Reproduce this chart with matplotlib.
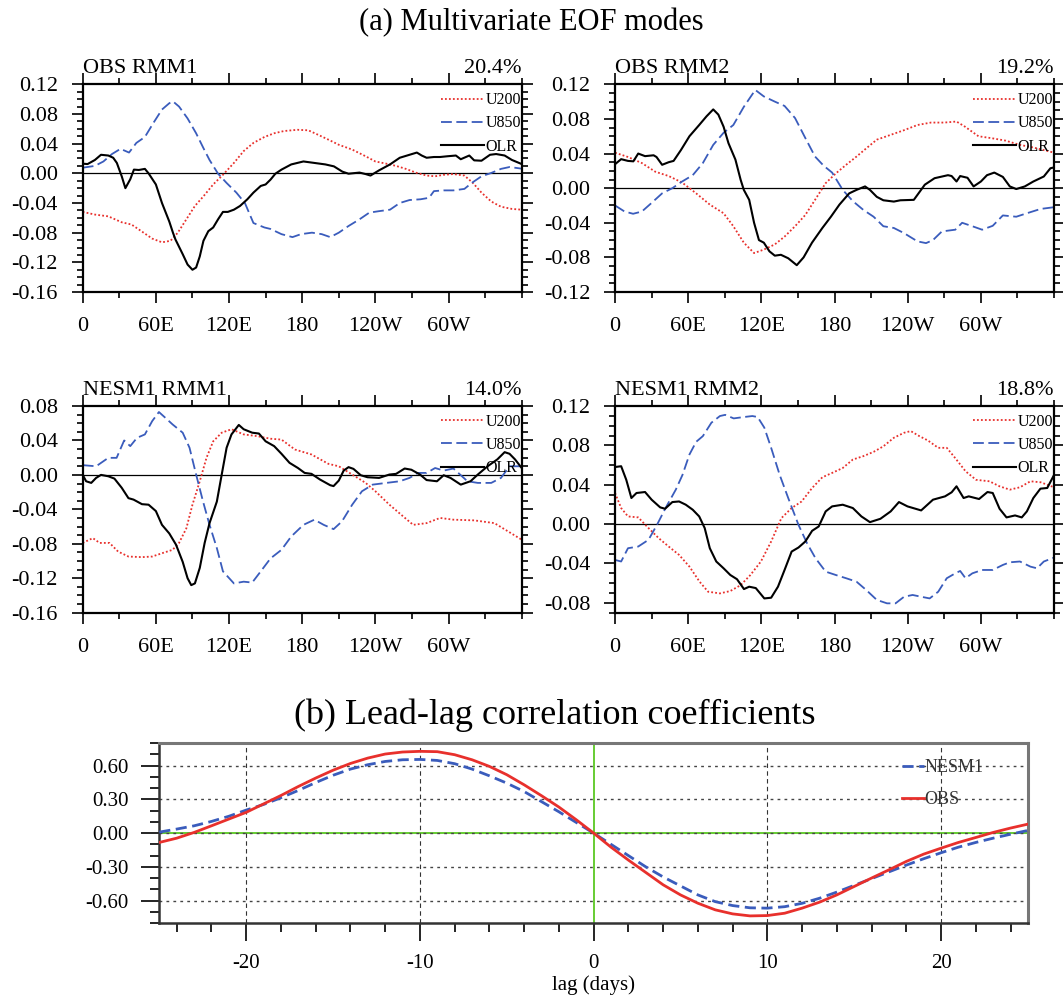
import numpy as np
import matplotlib
matplotlib.use("Agg")
import matplotlib.pyplot as plt
from matplotlib.ticker import MultipleLocator

plt.rcParams['font.family'] = ['Liberation Serif', 'DejaVu Serif']

# ---------------- data ----------------
# (a) EOF structures, longitude in degrees east (0..360)
obs1_olr_lon = [0, 4, 10, 15, 21, 25, 28, 32, 35, 39, 42, 46, 51, 54, 60, 65, 71, 74, 76, 82, 86, 90, 93, 96, 99,
                103, 107, 111, 115, 119, 124, 129, 135, 140, 146, 150, 154, 158, 163, 171, 181, 190, 199, 206, 213,
                218, 227, 232, 236, 243, 252, 260, 268, 274, 278, 282, 288, 293, 299, 306, 310, 317, 321, 327, 334,
                339, 346, 352, 360]
obs1_olr = [0.013, 0.0125, 0.018, 0.025, 0.024, 0.021, 0.014, -0.004, -0.020, -0.008, 0.005, 0.0045, 0.006, 0.0,
            -0.015, -0.040, -0.065, -0.080, -0.089, -0.109, -0.123, -0.130, -0.127, -0.112, -0.091, -0.078, -0.073,
            -0.062, -0.052, -0.052, -0.049, -0.044, -0.035, -0.026, -0.017, -0.015, -0.0085, -0.0005, 0.005, 0.012,
            0.016, 0.014, 0.012, 0.0094, 0.0022, -0.0005, 0.001, -0.001, -0.003, 0.004, 0.012, 0.021, 0.025, 0.028,
            0.024, 0.021, 0.022, 0.022, 0.023, 0.024, 0.019, 0.024, 0.0175, 0.017, 0.025, 0.026, 0.024, 0.018, 0.0125]
obs1_u200_lon = [0, 10, 21, 32, 40, 49, 57, 65, 72, 78, 85, 92, 99, 107, 115, 124, 132, 140, 149, 157, 165, 176, 185,
                 193, 202, 210, 221, 232, 240, 249, 257, 265, 274, 282, 289, 296, 304, 313, 320, 327, 335, 343, 352, 360]
obs1_u200 = [-0.052, -0.0556, -0.058, -0.066, -0.069, -0.079, -0.088, -0.093, -0.091, -0.080, -0.062, -0.044, -0.031,
             -0.015, -0.002, 0.014, 0.030, 0.041, 0.049, 0.054, 0.057, 0.0587, 0.058, 0.052, 0.045, 0.0385, 0.032,
             0.023, 0.016, 0.013, 0.010, 0.006, 0.0005, -0.003, -0.004, -0.002, -0.001, -0.003, -0.013, -0.026,
             -0.038, -0.045, -0.048, -0.049]
obs1_u850_lon = [0, 10, 17, 24, 31, 38, 44, 51, 58, 65, 71, 74, 79, 86, 93, 99, 104, 111, 118, 126, 133, 140, 149,
                 154, 163, 172, 179, 188, 196, 203, 210, 218, 227, 235, 243, 252, 260, 268, 277, 284, 288, 296, 304,
                 313, 319, 327, 335, 343, 350, 360]
obs1_u850 = [0.0076, 0.010, 0.016, 0.026, 0.033, 0.028, 0.041, 0.049, 0.068, 0.086, 0.0945, 0.097, 0.090, 0.074,
             0.054, 0.034, 0.018, -0.0005, -0.013, -0.026, -0.040, -0.067, -0.073, -0.075, -0.082, -0.086, -0.082,
             -0.080, -0.082, -0.086, -0.080, -0.071, -0.062, -0.053, -0.051, -0.049, -0.040, -0.036, -0.035, -0.033,
             -0.024, -0.023, -0.023, -0.021, -0.013, -0.004, 0.0005, 0.006, 0.0085, 0.0063]

obs2_olr_lon = [0, 5, 10.6, 15, 19, 24.6, 31.6, 34, 38.6, 44, 48, 54, 61, 69, 75, 80.5, 84.7, 89, 93, 98.7, 103,
                105.6, 110, 114, 118, 122, 126.6, 131, 136, 142, 149, 154.6, 161.5, 170, 177, 184, 192, 198, 205,
                209, 214.6, 220, 228.6, 234, 245, 254, 262, 273, 276, 280, 283, 289, 294, 300, 305, 311, 318, 323.7,
                329, 336, 343, 351.6, 357, 360]
obs2_olr = [0.0277, 0.0335, 0.0315, 0.031, 0.040, 0.037, 0.038, 0.036, 0.027, 0.030, 0.0315, 0.044, 0.060, 0.073,
            0.083, 0.091, 0.085, 0.071, 0.052, 0.033, 0.0096, -0.002, -0.0135, -0.040, -0.060, -0.063, -0.073, -0.078,
            -0.077, -0.081, -0.089, -0.080, -0.063, -0.046, -0.033, -0.019, -0.006, -0.002, 0.002, -0.002, -0.010,
            -0.014, -0.0155, -0.014, -0.0135, 0.004, 0.0115, 0.015, 0.014, 0.0077, 0.014, 0.012, 0.002, 0.0077,
            0.015, 0.018, 0.013, 0.002, -0.001, 0.002, 0.0077, 0.0135, 0.023, 0.024]
obs2_u200_lon = [0, 10.6, 22, 33, 44, 55, 66.5, 77.7, 89, 97, 105.6, 114, 122, 131, 139, 147.6, 156, 164, 172.7, 181,
                 189.5, 198, 206, 214.6, 225.8, 237, 248, 259, 270, 280, 287, 298, 309, 320, 332, 343, 351.6, 360]
obs2_u200 = [0.041, 0.036, 0.029, 0.019, 0.014, 0.0065, -0.006, -0.019, -0.029, -0.044, -0.063, -0.075, -0.071,
             -0.065, -0.056, -0.044, -0.031, -0.0135, 0.0058, 0.017, 0.027, 0.0365, 0.046, 0.056, 0.0615, 0.067,
             0.073, 0.0758, 0.0758, 0.077, 0.071, 0.060, 0.0577, 0.055, 0.050, 0.047, 0.044, 0.041]
obs2_u850_lon = [0, 7.8, 14.8, 22, 30, 38.6, 47, 55, 63.7, 72, 80.5, 89, 97, 105.6, 115, 122, 131, 139, 147.6, 156,
                 164, 171, 178, 186.7, 195, 203.5, 212, 220, 228.6, 237, 248, 255, 260.7, 268, 279, 284.6, 293, 301,
                 309.7, 318, 329, 337.7, 349, 360]
obs2_u850 = [-0.020, -0.027, -0.0296, -0.027, -0.017, -0.006, 0.0, 0.0077, 0.015, 0.029, 0.050, 0.064, 0.073, 0.094,
             0.1135, 0.106, 0.100, 0.095, 0.081, 0.058, 0.0365, 0.026, 0.018, -0.002, -0.015, -0.025, -0.033, -0.044,
             -0.046, -0.052, -0.0615, -0.0635, -0.060, -0.050, -0.048, -0.040, -0.044, -0.048, -0.0435, -0.0315,
             -0.033, -0.029, -0.024, -0.022]

nesm1_olr_lon = [0, 2.8, 7, 11, 15, 21, 26, 32, 37.5, 41.7, 48.6, 54, 60, 65, 71, 76.5, 82, 86, 89, 92, 96, 100, 104,
                 110, 114, 118, 122, 128, 132, 139, 144.5, 150, 157, 163, 169.6, 176.5, 182, 187.6, 194.6, 203, 205.7,
                 210, 214, 218, 222, 228, 233.5, 243, 251.5, 257, 264, 269.5, 276.6, 282, 290.5, 296, 301.6, 310, 318,
                 324, 332, 340, 346, 350, 354.5, 360]
nesm1_olr = [0.0, -0.0074, -0.0093, -0.0035, 0.0, -0.0016, -0.0043, -0.015, -0.027, -0.0287, -0.034, -0.0346, -0.042,
             -0.058, -0.068, -0.081, -0.101, -0.120, -0.128, -0.126, -0.108, -0.079, -0.056, -0.031, 0.0004, 0.0315,
             0.047, 0.058, 0.053, 0.049, 0.048, 0.039, 0.0334, 0.0245, 0.014, 0.008, 0.0023, 0.0012, -0.0054, -0.012,
             -0.013, -0.0066, 0.005, 0.009, 0.007, -0.0004, -0.0027, -0.0035, 0.0004, 0.0012, 0.0074, 0.006, 0.0004,
             -0.006, -0.0074, -0.0004, -0.0035, -0.0113, -0.0074, 0.0004, 0.010, 0.018, 0.0264, 0.0245, 0.018, 0.008]
nesm1_u200_lon = [0, 8.3, 13.9, 22, 29, 37.5, 48.6, 57, 65, 73.7, 79, 85, 90, 96, 101.5, 107, 114, 122, 132, 143, 154,
                  163, 174, 187.6, 201.5, 210, 221, 232, 240, 251.5, 262.6, 271, 282, 293, 304, 321, 337.6, 348.8, 360]
nesm1_u200 = [-0.079, -0.0734, -0.079, -0.079, -0.089, -0.0948, -0.0955, -0.0948, -0.091, -0.087, -0.079, -0.062,
              -0.0346, -0.0074, 0.0198, 0.039, 0.049, 0.053, 0.047, 0.045, 0.042, 0.041, 0.0295, 0.0237, 0.0128, 0.010,
              0.0004, -0.0093, -0.019, -0.0346, -0.048, -0.058, -0.056, -0.050, -0.052, -0.0528, -0.056, -0.0656,
              -0.0753]
nesm1_u850_lon = [0, 11, 21, 27.8, 34, 39, 44.5, 51, 57, 62.5, 68, 73.7, 82, 87.6, 93, 98.7, 104, 110, 115, 124, 132,
                  139, 146, 154, 163, 171, 181, 190, 197.6, 205.7, 212.6, 221, 229, 237.8, 249, 260, 268, 275, 282,
                  289, 296, 304, 315.5, 324, 335, 343, 350, 360]
nesm1_u850 = [0.0113, 0.010, 0.0198, 0.0198, 0.040, 0.0334, 0.043, 0.047, 0.0625, 0.073, 0.066, 0.0586, 0.049,
              0.0315, 0.0004, -0.031, -0.058, -0.085, -0.112, -0.126, -0.124, -0.125, -0.112, -0.097, -0.087, -0.0715,
              -0.058, -0.052, -0.058, -0.063, -0.054, -0.0346, -0.019, -0.0113, -0.0093, -0.0074, -0.0035, 0.0023,
              0.0023, 0.008, 0.005, 0.0074, -0.0074, -0.0093, -0.0093, -0.0035, 0.010, 0.010]

nesm2_olr_lon = [0, 5, 9.2, 13.4, 17.6, 24.6, 30, 37, 41, 47, 52.5, 58, 63.7, 69, 73.5, 77.7, 83, 89, 94.5, 100,
                 105.7, 110, 115.4, 122.4, 128, 133.6, 139, 144.8, 150.4, 156, 161.6, 167, 172.7, 178, 186.7, 195,
                 202, 209, 217.6, 226, 232.8, 239.8, 251, 260.7, 270.6, 276, 280, 285.8, 290, 298.5, 305.4, 309.7,
                 315.3, 321, 328, 333.5, 337.7, 343, 348.8, 354.4, 360]
nesm2_olr = [0.058, 0.0588, 0.045, 0.0265, 0.0316, 0.0326, 0.0248, 0.017, 0.0156, 0.0224, 0.023, 0.0197, 0.0146,
             0.0078, -0.004, -0.0245, -0.038, -0.0449, -0.0517, -0.056, -0.066, -0.0636, -0.065, -0.0755, -0.0748,
             -0.0636, -0.0466, -0.0279, -0.0238, -0.0177, -0.0068, -0.0024, 0.0129, 0.018, 0.0197, 0.0163, 0.0078,
             0.002, 0.0054, 0.0129, 0.0224, 0.018, 0.0139, 0.0248, 0.0282, 0.0323, 0.0384, 0.0265, 0.0282, 0.0255,
             0.0326, 0.0316, 0.0156, 0.0068, 0.0088, 0.0068, 0.0129, 0.0265, 0.036, 0.0367, 0.050]
nesm2_u200_lon = [0, 5, 10.6, 19, 27.4, 35.8, 44, 52.5, 61, 69.3, 76.3, 86, 94.5, 103, 111, 119.6, 128, 136.4, 144.8,
                  153, 161.6, 170, 178, 186.7, 195, 203.5, 212, 220, 228.6, 237, 242.5, 249.5, 256.5, 265, 272, 279,
                  287.4, 296, 307, 315.3, 323.7, 332, 340.6, 349, 360]
nesm2_u200 = [0.0316, 0.0163, 0.0078, 0.0068, -0.004, -0.0143, -0.0228, -0.0313, -0.0432, -0.0585, -0.0687, -0.0704,
              -0.068, -0.062, -0.0517, -0.038, -0.0177, 0.0061, 0.0163, 0.023, 0.0367, 0.0476, 0.052, 0.057, 0.0656,
              0.069, 0.0734, 0.079, 0.0877, 0.0928, 0.0945, 0.0894, 0.085, 0.0775, 0.0775, 0.067, 0.0537, 0.045,
              0.0435, 0.0384, 0.035, 0.0374, 0.0435, 0.0425, 0.0374]
nesm2_u850_lon = [0, 5, 10.6, 19, 27.4, 34.4, 41.4, 49.8, 55.3, 61, 66.5, 72, 79, 86, 90.3, 97.3, 105.7, 112.6, 116.9,
                  122.4, 128, 135, 142, 150.4, 157.4, 164.4, 172.7, 181, 189.5, 198, 206, 214.6, 223, 230, 237, 244,
                  251, 258, 265, 272, 279, 283, 287.4, 293, 301, 309.7, 318, 323.7, 332, 340.6, 346, 351.6, 360]
nesm2_u850 = [-0.0364, -0.038, -0.0245, -0.0228, -0.016, -0.0007, 0.0163, 0.035, 0.050, 0.0707, 0.0836, 0.0894, 0.103,
              0.1098, 0.111, 0.1074, 0.1088, 0.1098, 0.1088, 0.098, 0.0775, 0.050, 0.0265, -0.0007, -0.0194, -0.0347,
              -0.0483, -0.0517, -0.055, -0.0585, -0.067, -0.077, -0.0805, -0.0805, -0.0738, -0.072, -0.0738, -0.0755,
              -0.0687, -0.055, -0.050, -0.0476, -0.055, -0.050, -0.0466, -0.0466, -0.0415, -0.0388, -0.038, -0.0432,
              -0.0449, -0.038, -0.034]

lon_ticks = [0, 60, 120, 180, 240, 300]
lon_labels = ['0', '60E', '120E', '180', '120W', '60W']

# (b) lead-lag correlation
lags = list(range(-25, 26))
corr_obs = [-0.083, -0.045, 0.006, 0.065, 0.125, 0.185, 0.26, 0.335, 0.415, 0.49, 0.56, 0.62, 0.668, 0.704, 0.722,
            0.728, 0.725, 0.698, 0.653, 0.594, 0.52, 0.43, 0.333, 0.232, 0.119, 0.0, -0.125, -0.24, -0.35, -0.46,
            -0.55, -0.624, -0.683, -0.719, -0.737, -0.734, -0.713, -0.668, -0.615, -0.55, -0.475, -0.40, -0.327,
            -0.252, -0.187, -0.134, -0.083, -0.039, 0.006, 0.045, 0.080]
corr_nesm1 = [0.009, 0.036, 0.065, 0.104, 0.15, 0.205, 0.255, 0.315, 0.38, 0.45, 0.515, 0.57, 0.609, 0.638, 0.653,
              0.656, 0.647, 0.618, 0.57, 0.51, 0.445, 0.37, 0.28, 0.19, 0.095, 0.0, -0.1, -0.2, -0.3, -0.39, -0.47,
              -0.55, -0.61, -0.645, -0.665, -0.668, -0.655, -0.625, -0.58, -0.525, -0.465, -0.405, -0.345, -0.285,
              -0.228, -0.175, -0.125, -0.083, -0.045, -0.01, 0.024]
lag_ticks = [-20, -10, 0, 10, 20]
corr_ticks = [-0.6, -0.3, 0.0, 0.3, 0.6]

panels = [
    ('OBS RMM1', '20.4%', (obs1_u200_lon, obs1_u200), (obs1_u850_lon, obs1_u850), (obs1_olr_lon, obs1_olr), (-0.16, 0.12)),
    ('OBS RMM2', '19.2%', (obs2_u200_lon, obs2_u200), (obs2_u850_lon, obs2_u850), (obs2_olr_lon, obs2_olr), (-0.12, 0.12)),
    ('NESM1 RMM1', '14.0%', (nesm1_u200_lon, nesm1_u200), (nesm1_u850_lon, nesm1_u850), (nesm1_olr_lon, nesm1_olr), (-0.16, 0.08)),
    ('NESM1 RMM2', '18.8%', (nesm2_u200_lon, nesm2_u200), (nesm2_u850_lon, nesm2_u850), (nesm2_olr_lon, nesm2_olr), (-0.09, 0.12)),
]

RED = '#e8302c'
BLUE = '#3a5cbc'

fig = plt.figure(figsize=(10.63, 9.99), dpi=100)

rects = [
    [0.0778, 0.7077, 0.413, 0.2079],
    [0.5786, 0.7077, 0.413, 0.2079],
    [0.0778, 0.3867, 0.413, 0.2069],
    [0.5786, 0.3867, 0.413, 0.2069],
]

for rect, (name, pct, u200, u850, olr, ylim) in zip(rects, panels):
    ax = fig.add_axes(rect)
    ax.axhline(0, color='black', lw=0.9, zorder=1)
    l1, = ax.plot(u200[0], u200[1], color=RED, lw=1.3, ls=(0, (1.0, 1.2)), label='U200')
    l2, = ax.plot(u850[0], u850[1], color=BLUE, lw=1.3, ls=(0, (6, 2.5)), label='U850')
    l3, = ax.plot(olr[0], olr[1], color='black', lw=1.5, label='OLR')
    ax.set_xlim(0, 360)
    ax.set_ylim(*ylim)
    ax.set_xticks(lon_ticks)
    ax.set_xticklabels(lon_labels)
    ax.xaxis.set_minor_locator(MultipleLocator(30))
    yt = np.arange(np.ceil(ylim[0] / 0.04 - 1e-6) * 0.04, ylim[1] + 1e-6, 0.04)
    ax.set_yticks(yt)
    ax.set_yticklabels(['%.2f' % v if abs(v) > 1e-9 else '0.00' for v in yt])
    ax.yaxis.set_minor_locator(MultipleLocator(0.01))
    ax.tick_params(which='both', direction='out', top=True, right=True, labelsize=16, pad=10, width=1.2)
    ax.tick_params(which='major', length=8)
    ax.tick_params(which='minor', length=4)
    for s in ax.spines.values():
        s.set_linewidth(1.6)
    ax.annotate(name, xy=(0, 1), xycoords='axes fraction', xytext=(0, 8), textcoords='offset points',
                ha='left', va='baseline', fontsize=16)
    ax.annotate(pct, xy=(1, 1), xycoords='axes fraction', xytext=(0, 8), textcoords='offset points',
                ha='right', va='baseline', fontsize=16)
    ax.legend(handles=[l1, l2, l3], loc='upper right', bbox_to_anchor=(0.998, 0.962), frameon=False,
              fontsize=11.5, handlelength=2.7, handletextpad=0.1, labelspacing=0.45, borderpad=0,
              borderaxespad=0, markerfirst=True)

fig.text(0.5, 0.977, '(a) Multivariate EOF modes', ha='center', va='center', fontsize=22)

# (b) lead-lag correlation
ax = fig.add_axes([0.1499, 0.0761, 0.8171, 0.1799])
ax.axhline(0, color='#66cc33', lw=1.4, zorder=1)
ax.axvline(0, color='#66cc33', lw=1.4, zorder=1)
for v in corr_ticks:
    ax.axhline(v, color='#444444', lw=1.0, ls=(0, (2, 3)), zorder=2)
for t in lag_ticks:
    if t != 0:
        ax.axvline(t, color='#333333', lw=0.8, ls=(0, (4, 3)), zorder=2)
ln1, = ax.plot(lags, corr_nesm1, color=BLUE, lw=2.0, ls=(0, (4, 2)), label='NESM1', zorder=3)
ln2, = ax.plot(lags, corr_obs, color=RED, lw=2.0, label='OBS', zorder=3)
ax.set_xlim(-25, 25)
ax.set_ylim(-0.8, 0.8)
ax.set_xticks(lag_ticks)
ax.set_xticklabels([str(t) for t in lag_ticks])
ax.xaxis.set_minor_locator(MultipleLocator(2))
ax.set_yticks(corr_ticks)
ax.set_yticklabels(['%.2f' % v if abs(v) > 1e-9 else '0.00' for v in corr_ticks])
ax.yaxis.set_minor_locator(MultipleLocator(0.1))
ax.tick_params(which='both', direction='out', top=False, right=False, labelsize=15, pad=9, width=1.2)
ax.tick_params(which='major', length=13)
ax.tick_params(which='minor', length=6.5)
for side in ['left', 'bottom']:
    ax.spines[side].set_linewidth(1.8)
    ax.spines[side].set_color('#333333')
for side in ['top', 'right']:
    ax.spines[side].set_linewidth(2.2)
    ax.spines[side].set_color('#777777')
ax.set_xlabel('lag (days)', fontsize=15, labelpad=2)
ax.legend(handles=[ln1, ln2], loc='upper left', bbox_to_anchor=(0.855, 0.91), frameon=False, fontsize=13,
          handlelength=1.2, handletextpad=0.05, labelspacing=0.8, borderpad=0, borderaxespad=0,
          labelcolor='#333333')

fig.text(555 / 1063, 1 - 715 / 999, '(b) Lead-lag correlation coefficients', ha='center', va='center', fontsize=26)

fig.savefig('out.png', dpi=100)
